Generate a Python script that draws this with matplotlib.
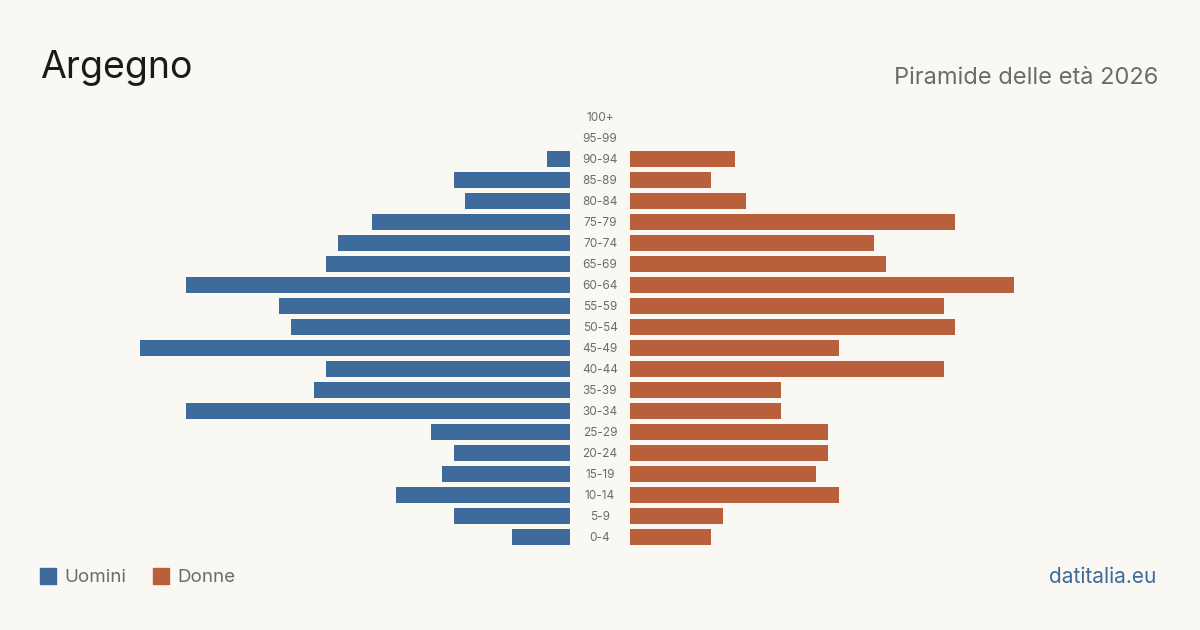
import matplotlib.pyplot as plt

plt.rcParams['font.family'] = ['Inter', 'DejaVu Sans']

age_groups = ['0-4', '5-9', '10-14', '15-19', '20-24', '25-29', '30-34', '35-39',
              '40-44', '45-49', '50-54', '55-59', '60-64', '65-69', '70-74',
              '75-79', '80-84', '85-89', '90-94', '95-99', '100+']
men = [5, 10, 15, 11, 10, 12, 33, 22, 21, 37, 24, 25, 33, 21, 20, 17, 9, 10, 2, 0, 0]
women = [7, 8, 18, 16, 17, 17, 13, 13, 27, 18, 28, 27, 33, 22, 21, 28, 10, 7, 9, 0, 0]

bg = '#f9f8f3'
blue = '#3d6b9b'
orange = '#b95f3c'
W, H = 1200, 630

fig = plt.figure(figsize=(12, 6.3), dpi=100, facecolor=bg)
vmax = max(max(men), max(women))

bottom = 1 - 547.5 / H
height = 441 / H
axl = fig.add_axes([140 / W, bottom, 430 / W, height])
axr = fig.add_axes([630 / W, bottom, 430 / W, height])

ypos = list(range(len(age_groups)))
axl.barh(ypos, men, height=0.8, color=blue)
axr.barh(ypos, women, height=0.8, color=orange)
axl.set_xlim(vmax, 0)
axr.set_xlim(0, vmax)
for ax in (axl, axr):
    ax.set_ylim(-0.5, len(age_groups) - 0.5)
    ax.axis('off')
    ax.set_facecolor(bg)

# age labels in the middle gap
for i, lab in enumerate(age_groups):
    axr.annotate(lab, xy=(0, i), xycoords='data', xytext=(-30, -1),
                 textcoords='offset pixels', ha='center', va='center',
                 fontsize=8.5, color='#6b6b6b')

fig.text(40 / W, 1 - 68 / H, 'Argegno', fontsize=27, color='#1a1a1a',
         ha='left', va='center')
fig.text(1158 / W, 1 - 78 / H, 'Piramide delle età 2026', fontsize=17,
         color='#6b6b6b', ha='right', va='center')

# legend
fig.patches.append(plt.Rectangle((40 / W, 1 - 584 / H), 16 / W, 16 / H,
                                 transform=fig.transFigure, color=blue))
fig.text(64 / W, 1 - 577 / H, 'Uomini', fontsize=13.5, color='#6b6b6b',
         ha='left', va='center')
fig.patches.append(plt.Rectangle((153 / W, 1 - 584 / H), 16 / W, 16 / H,
                                 transform=fig.transFigure, color=orange))
fig.text(177 / W, 1 - 577 / H, 'Donne', fontsize=13.5, color='#6b6b6b',
         ha='left', va='center')

fig.text(1156 / W, 1 - 577 / H, 'datitalia.eu', fontsize=15, color=blue,
         ha='right', va='center')

fig.savefig('out.png', dpi=100, facecolor=bg)
